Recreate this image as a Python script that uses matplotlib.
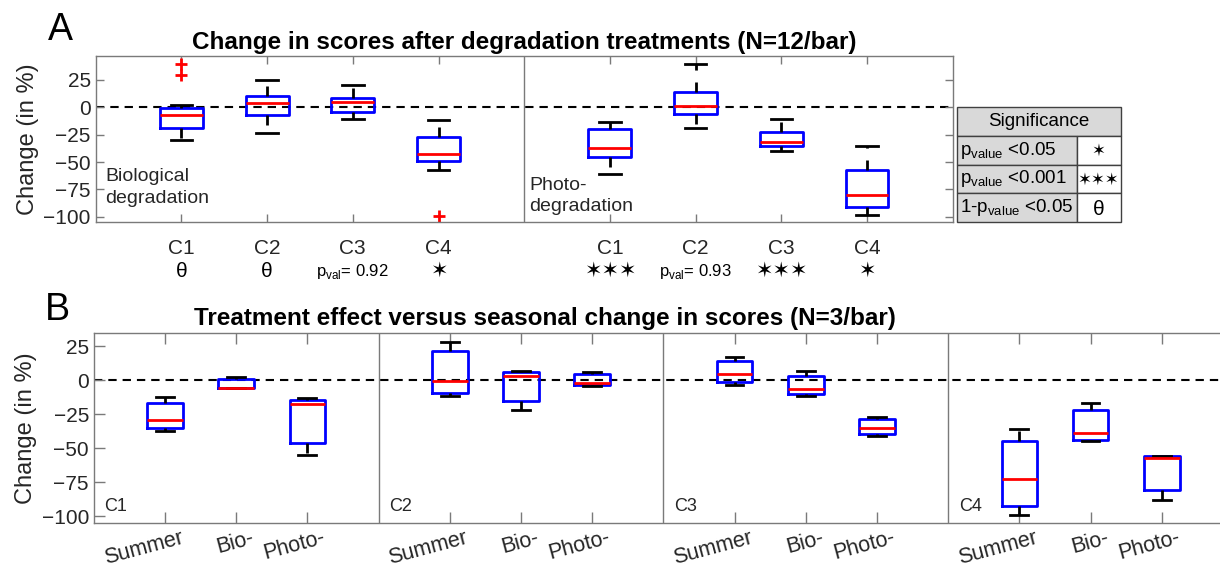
import numpy as np
import matplotlib
matplotlib.use("Agg")
import matplotlib.pyplot as plt
from matplotlib.patches import Rectangle
from matplotlib.transforms import ScaledTranslation

plt.rcParams['font.family'] = ['Liberation Sans', 'DejaVu Sans']
plt.rcParams['mathtext.fontset'] = 'custom'
plt.rcParams['mathtext.rm'] = 'Liberation Sans'
plt.rcParams['lines.scale_dashes'] = False

# --- panel A: change after degradation (N=12/bar) ---
comp_labels = ['C1', 'C2', 'C3', 'C4']

bio_hi = [2, 25, 20, -12]
bio_q3 = [-1, 10.5, 8.5, -27.5]
bio_med = [-7, 3.5, 4.5, -42.5]
bio_q1 = [-19, -7.5, -4.5, -49.5]
bio_lo = [-30, -23.5, -11, -57.5]
bio_out = [[29, 39.5], [], [], [-99]]

photo_hi = [-13.5, 39.5, -10.5, -35.5]
photo_q3 = [-19.5, 14.3, -22.7, -57.5]
photo_med = [-37.5, 1.3, -31.5, -80]
photo_q1 = [-45.5, -6, -35, -91]
photo_lo = [-61, -18.7, -40.3, -98.5]
photo_out = [[], [], [], []]

bio_sig = ['θ', 'θ', r'p$_{\mathrm{val}}$= 0.92', '✶']
photo_sig = ['✶✶✶', r'p$_{\mathrm{val}}$= 0.93', '✶✶✶', '✶']

# --- panel B: treatment vs seasonal change (N=3/bar) ---
cond_labels = ['Summer', 'Bio-', 'Photo-']
b_hi = [-12.5, 2.5, -13.2, 28.5, 7.1, 6.2, 17.2, 6.6, -26.9, -35.5, -16.6, -55.6]
b_q3 = [-16.6, 0.8, -14.2, 21.3, 5.9, 4.4, 14.5, 2.9, -28.4, -44.8, -21.5, -55.9]
b_med = [-29.4, -5.6, -17.6, -0.7, 3.5, -1.9, 4.4, -6.1, -35.3, -72.5, -38.7, -57.4]
b_q1 = [-35.3, -5.8, -45.8, -9.3, -15.1, -3.4, -1, -10, -39.4, -92.4, -43.6, -80.4]
b_lo = [-37, -5.8, -54.6, -11.5, -21.5, -3.9, -3.4, -11.3, -40.7, -98.8, -44.8, -87.7]

# --- significance table ---
table_head = 'Significance'
table_rows = [r'p$_{\mathrm{value}}$ <0.05', r'p$_{\mathrm{value}}$ <0.001', r'1-p$_{\mathrm{value}}$ <0.05']
table_marks = ['✶', '✶✶✶', 'θ']

W, H = 1220, 567
spine_c = '#7a7a7a'
txt_c = '#262626'


def fx(px):
    return px / W


def fy(px):
    return 1 - px / H


def stats_list(lo, q1, med, q3, hi, out=None):
    res = []
    for i in range(len(lo)):
        res.append(dict(whislo=lo[i], q1=q1[i], med=med[i], q3=q3[i], whishi=hi[i],
                        fliers=out[i] if out else []))
    return res


def draw_boxes(ax, stats, pos):
    ax.bxp(stats, positions=pos, widths=0.5, capwidths=0.25, showfliers=True,
           manage_ticks=False,
           boxprops=dict(color='b', lw=2),
           medianprops=dict(color='r', lw=2),
           whiskerprops=dict(color='k', lw=2, ls=(0, (7.2, 8.6))),
           capprops=dict(color='k', lw=2),
           flierprops=dict(marker='+', markeredgecolor='r', markersize=9, markeredgewidth=2, ls='none'))


def style_axes(ax, ticklen):
    for s in ax.spines.values():
        s.set_color(spine_c)
        s.set_linewidth(1)
    ax.tick_params(direction='in', length=ticklen, width=1, color=spine_c, top=True, right=True,
                   labelcolor=txt_c, labelsize=15)


def sig_size(s):
    if 'val' in s:
        return 12
    return 15


fig = plt.figure(figsize=(W / 100, H / 100), dpi=100)

# ---------------- panel A ----------------
axA = fig.add_axes([fx(95.7), fy(222.3), (952.7 - 95.7) / W, (222.3 - 55.7) / H])
axA.axhline(0, color='k', lw=1.5, ls=(0, (6, 4.3)), zorder=1)
axA.axvline(5, color=spine_c, lw=1)
posA1 = np.arange(1, 5)
posA2 = np.arange(6, 10)
draw_boxes(axA, stats_list(bio_lo, bio_q1, bio_med, bio_q3, bio_hi, bio_out), posA1)
draw_boxes(axA, stats_list(photo_lo, photo_q1, photo_med, photo_q3, photo_hi, photo_out), posA2)
axA.set_xlim(0, 10)
axA.set_ylim(-105, 47)
axA.set_yticks([25, 0, -25, -50, -75, -100])
axA.set_xticks(np.concatenate([posA1, posA2]))
axA.set_xticklabels(comp_labels + comp_labels)
style_axes(axA, 6)
axA.tick_params(axis='x', pad=12, labelsize=15)
axA.set_ylabel('Change (in %)', fontsize=17, color=txt_c)
axA.yaxis.set_label_coords(-0.066, 0.5)

for x, s in zip(np.concatenate([posA1, posA2]), bio_sig + photo_sig):
    axA.annotate(s, xy=(x, 0), xycoords=('data', 'axes fraction'), xytext=(0, -35.5),
                 textcoords='offset points', ha='center', va='center', fontsize=sig_size(s),
                 color='k')

axA.text(0.11, -73, 'Biological\ndegradation', fontsize=14, ha='left', va='center',
         linespacing=1.35, color=txt_c)
axA.text(5.06, -81, 'Photo-\ndegradation', fontsize=14, ha='left', va='center',
         linespacing=1.35, color=txt_c)

fig.text(fx(524), fy(49.3), 'Change in scores after degradation treatments (N=12/bar)',
         ha='center', va='baseline', fontsize=17.5, weight='bold')
fig.text(fx(48), fy(40), 'A', fontsize=27, va='baseline')

# ---------------- significance table ----------------
axT = fig.add_axes([fx(956.7), fy(222.3), 164 / W, (222.3 - 106.7) / H])
axT.set_xlim(0, 1)
axT.set_ylim(0, 4)
axT.axis('off')
split = 0.732
gray = '#d9d9d9'
edge = '#404040'
axT.add_patch(Rectangle((0, 3), 1, 1, fc=gray, ec=edge, lw=1, clip_on=False))
axT.text(0.5, 3.5, table_head, ha='center', va='center', fontsize=13.5)
for i, (lab, mark) in enumerate(zip(table_rows, table_marks)):
    y = 2 - i
    axT.add_patch(Rectangle((0, y), split, 1, fc=gray, ec=edge, lw=1, clip_on=False))
    axT.add_patch(Rectangle((split, y), 1 - split, 1, fc='white', ec=edge, lw=1, clip_on=False))
    axT.text(0.02, y + 0.5, lab, ha='left', va='center', fontsize=13.5)
    axT.text((1 + split) / 2, y + 0.45, mark, ha='center', va='center',
             fontsize=12 if '✶' in mark else 15)

# ---------------- panel B ----------------
axB = fig.add_axes([fx(93.8), fy(523.3), (1232.9 - 93.8) / W, (523.3 - 332.7) / H])
axB.axhline(0, color='k', lw=1.5, ls=(0, (6, 4.3)), zorder=1)
posB = np.array([g * 4 + c + 1 for g in range(4) for c in range(3)])
for d in [4, 8, 12]:
    axB.axvline(d, color=spine_c, lw=1)
draw_boxes(axB, stats_list(b_lo, b_q1, b_med, b_q3, b_hi), posB)
axB.set_xlim(0, 16)
axB.set_ylim(-105, 35)
axB.set_yticks([25, 0, -25, -50, -75, -100])
axB.set_xticks(posB)
axB.set_xticklabels(cond_labels * 4)
style_axes(axB, 8)
axB.tick_params(axis='x', pad=3, labelsize=15.5)
off = ScaledTranslation(15 / 100, 0, fig.dpi_scale_trans)
for lab in axB.get_xticklabels():
    lab.set_rotation(15)
    lab.set_ha('right')
    lab.set_va('top')
    lab.set_rotation_mode('anchor')
    lab.set_transform(lab.get_transform() + off)
axB.set_ylabel('Change (in %)', fontsize=17, color=txt_c)
axB.yaxis.set_label_coords(-0.050, 0.5)
for g, name in enumerate(comp_labels):
    axB.text(g * 4 + 0.15, -93, name, fontsize=13, ha='left', va='center', color=txt_c)

fig.text(fx(545), fy(325), 'Treatment effect versus seasonal change in scores (N=3/bar)',
         ha='center', va='baseline', fontsize=17.5, weight='bold')
fig.text(fx(45), fy(320), 'B', fontsize=27, va='baseline')

fig.savefig('out.png', dpi=100, facecolor='white')
